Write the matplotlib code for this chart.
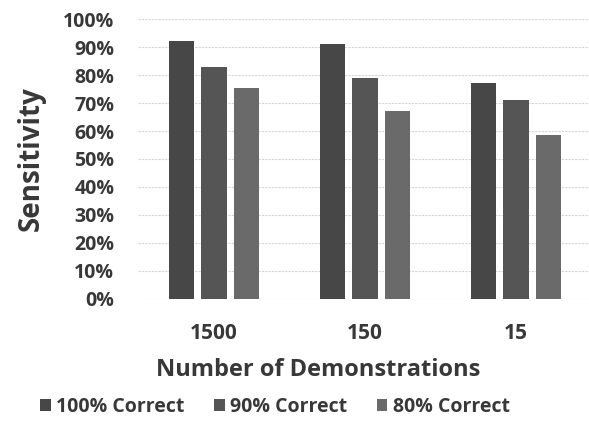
import matplotlib
matplotlib.use("Agg")
import matplotlib.pyplot as plt
import numpy as np

plt.rcParams['font.family'] = ['Open Sans', 'DejaVu Sans']

categories = ["1500", "150", "15"]
series_names = ["100% Correct", "90% Correct", "80% Correct"]
correct_100 = [0.92, 0.91, 0.77]
correct_90 = [0.83, 0.79, 0.71]
correct_80 = [0.755, 0.67, 0.585]
y_ticks = [0.0, 0.1, 0.2, 0.3, 0.4, 0.5, 0.6, 0.7, 0.8, 0.9, 1.0]

series = [correct_100, correct_90, correct_80]
colors = ["#474747", "#555555", "#6a6a6a"]
text_color = "#383838"

fig = plt.figure(figsize=(5.89, 4.24), dpi=100)
ax = fig.add_axes([0.234, 0.295, 0.766, 0.66])

x = np.arange(len(categories))
width = 0.168
pitch = 0.215
for i, (vals, col, name) in enumerate(zip(series, colors, series_names)):
    ax.bar(x + (i - 1) * pitch, vals, width, color=col, label=name, zorder=2)

ax.set_ylim(0, 1.0)
ax.set_xlim(-0.503, 2.483)
ax.set_yticks(y_ticks)
ax.set_yticklabels([f"{int(round(t * 100))}%" for t in y_ticks],
                   fontsize=14, fontweight='bold', color=text_color)
ax.set_xticks(x)
ax.set_xticklabels(categories, fontsize=15, fontweight='bold', color=text_color)
ax.tick_params(axis='both', length=0)
ax.tick_params(axis='y', pad=17)
ax.tick_params(axis='x', pad=17)

ax.yaxis.grid(True, color="#d6d6d6", linestyle=(0, (2, 1)), linewidth=0.8, zorder=0)
for s in ax.spines.values():
    s.set_visible(False)

ax.set_ylabel("Sensitivity", fontsize=20, fontweight='bold', color=text_color)
ax.yaxis.set_label_coords(-0.204, 0.5)
ax.set_xlabel("Number of Demonstrations", fontsize=17, fontweight='bold',
              color=text_color)
ax.xaxis.set_label_coords(0.400, -0.212)

fig.legend(loc='center', bbox_to_anchor=(0.467, 0.04), ncol=3, frameon=False,
           prop={'size': 14, 'weight': 'bold'}, handlelength=0.55, handleheight=0.55,
           handletextpad=0.3, columnspacing=1.5, labelcolor=text_color)

fig.savefig("out.png", dpi=100)
